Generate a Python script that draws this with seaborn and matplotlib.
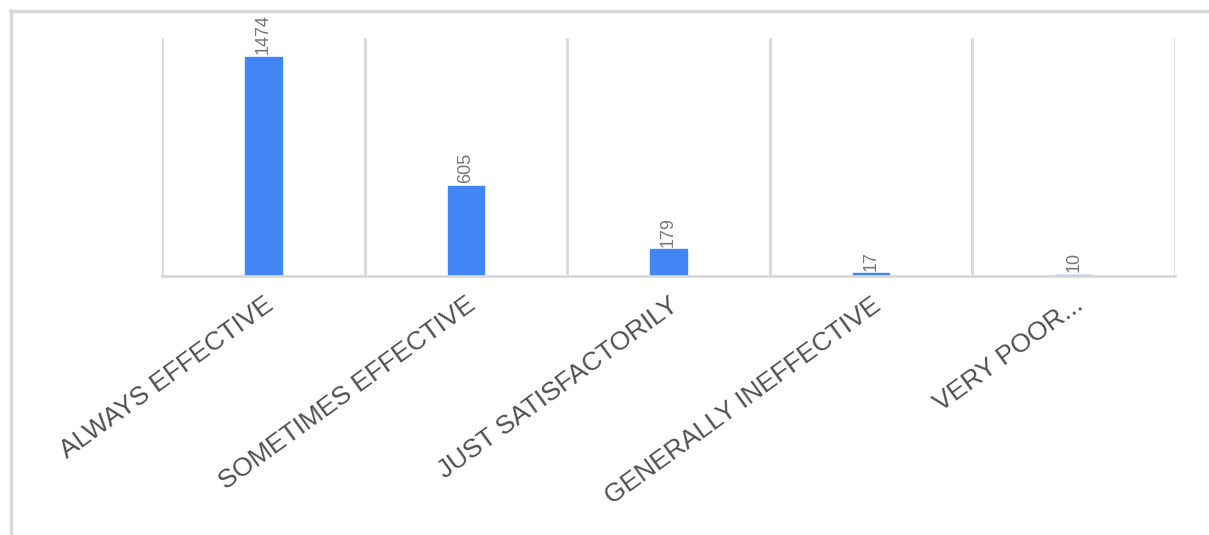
import numpy as np
import matplotlib
matplotlib.use("Agg")
import matplotlib.pyplot as plt
from matplotlib.lines import Line2D
import seaborn as sns

# data
categories = ["ALWAYS EFFECTIVE", "SOMETIMES EFFECTIVE", "JUST SATISFACTORILY",
              "GENERALLY INEFFECTIVE", "VERY POOR..."]
counts = [1474, 605, 179, 17, 10]

sns.set_style("white")
plt.rcParams['font.family'] = ['Liberation Sans', 'DejaVu Sans']

grid_col = "#d9d9d9"
bar_col = "#4285f4"

fig = plt.figure(figsize=(12.09, 5.35), dpi=100)
ax = fig.add_axes([0.134, 0.4841, 0.8379, 0.4449])

sns.barplot(x=categories, y=counts, color=bar_col, width=0.18, ax=ax,
            saturation=1, edgecolor=bar_col)

ax.set_xlim(-0.5, len(categories) - 0.5)
ax.set_ylim(0, 1600)
ax.set_yticks([])
ax.set_ylabel("")
ax.set_xlabel("")

# vertical lines between categories
ax.set_xticks(np.arange(-0.5, len(categories), 1), minor=True)
ax.grid(which="minor", axis="x", color=grid_col, linewidth=2)
ax.tick_params(which="both", length=0)
ax.tick_params(axis="x", which="major", pad=12)

for s in ["top", "right", "left"]:
    ax.spines[s].set_visible(False)
ax.spines["bottom"].set_color(grid_col)
ax.spines["bottom"].set_linewidth(2)

for lbl in ax.get_xticklabels():
    lbl.set_rotation(36)
    lbl.set_ha("right")
    lbl.set_va("top")
    lbl.set_rotation_mode("anchor")
    lbl.set_fontsize(19)
    lbl.set_color("#505050")

ax.bar_label(ax.containers[0], rotation=90, padding=2, color="#777777",
             fontsize=13)

# outer frame (left and top edges)
fig.add_artist(Line2D([10.5 / 1209, 10.5 / 1209], [0, 1 - 10 / 535],
                      transform=fig.transFigure, color=grid_col, linewidth=2.5))
fig.add_artist(Line2D([10 / 1209, 1], [1 - 11 / 535, 1 - 11 / 535],
                      transform=fig.transFigure, color=grid_col, linewidth=2.5))

fig.savefig("out.png", dpi=100, facecolor="white")
